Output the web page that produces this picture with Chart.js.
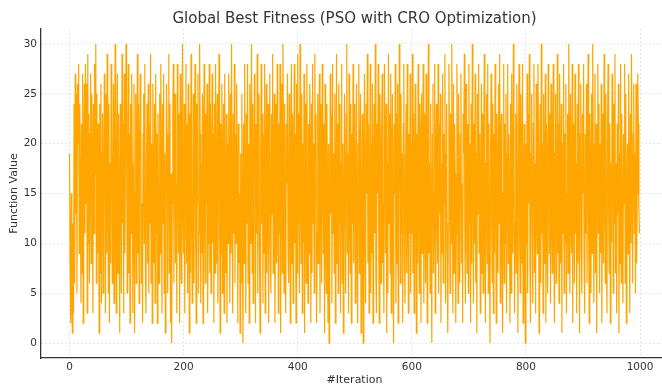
<!DOCTYPE html>
<html>
<head>
<meta charset="utf-8">
<script src="https://cdn.jsdelivr.net/npm/chart.js@4"></script>
<style>
	html, body { margin: 0; padding: 0; background: #fff; overflow: hidden; }
	#wrap { width: 670px; height: 392px; }
</style>
</head>
<body>
<div id="wrap"><canvas id="fitnessChart" width="670" height="392"></canvas></div>
<script>
// global best fitness per iteration (50 per row)
const fitness = [
	19, 8, 2, 15, 4, 1, 12, 3, 24, 6, 27, 13, 25, 5, 26, 20, 28, 9, 24, 16, 4, 22, 7, 27, 2, 18, 26, 11, 28, 14, 26, 3, 29, 10, 23, 6, 21, 27, 8, 25, 19, 3, 24, 11, 28, 17, 30, 6, 25, 9,
	22, 12, 1, 24, 7, 26, 4, 19, 23, 5, 13, 27, 21, 3, 25, 9, 29, 14, 5, 24, 2, 18, 8, 28, 22, 6, 15, 26, 4, 21, 30, 10, 3, 19, 27, 7, 23, 13, 1, 24, 20, 5, 29, 12, 22, 3, 27, 9, 17, 30,
	25, 5, 16, 28, 7, 21, 2, 24, 11, 27, 18, 3, 13, 26, 1, 15, 25, 6, 20, 29, 9, 24, 4, 18, 27, 22, 6, 14, 2, 21, 25, 10, 28, 7, 3, 19, 24, 8, 26, 5, 22, 12, 29, 6, 20, 2, 26, 14, 8, 24,
	4, 27, 11, 21, 2, 23, 14, 6, 25, 9, 28, 16, 3, 24, 12, 27, 5, 19, 1, 13, 26, 21, 5, 18, 29, 7, 24, 2, 17, 0, 14, 23, 28, 6, 20, 25, 8, 16, 3, 28, 19, 9, 23, 2, 27, 12, 6, 22, 30, 13,
	9, 24, 3, 19, 28, 8, 22, 5, 26, 13, 1, 23, 7, 29, 15, 4, 12, 25, 6, 21, 28, 10, 2, 24, 14, 27, 5, 11, 30, 21, 4, 18, 9, 25, 2, 20, 28, 12, 6, 23, 14, 26, 3, 10, 20, 28, 7, 24, 5, 17,
	27, 10, 21, 2, 24, 7, 28, 15, 8, 25, 4, 19, 29, 12, 1, 22, 9, 26, 5, 18, 24, 3, 27, 13, 7, 23, 2, 20, 10, 27, 17, 4, 25, 9, 30, 14, 3, 23, 11, 28, 6, 21, 10, 26, 16, 2, 22, 8, 15, 1,
	19, 6, 25, 11, 0, 22, 8, 28, 14, 3, 23, 12, 28, 6, 20, 2, 26, 10, 18, 30, 7, 24, 4, 16, 27, 20, 2, 22, 11, 29, 5, 17, 25, 9, 1, 19, 28, 12, 23, 4, 21, 9, 28, 3, 18, 26, 7, 14, 24, 2,
	20, 27, 9, 5, 23, 13, 29, 7, 18, 25, 2, 12, 24, 8, 28, 19, 3, 22, 11, 28, 1, 15, 26, 7, 30, 20, 5, 24, 12, 3, 22, 16, 27, 9, 6, 25, 14, 2, 20, 28, 8, 23, 4, 17, 28, 10, 21, 2, 26, 7,
	29, 12, 23, 5, 30, 16, 8, 25, 3, 20, 10, 27, 1, 17, 24, 6, 28, 13, 4, 22, 9, 26, 19, 2, 24, 7, 28, 12, 20, 5, 29, 14, 23, 2, 11, 25, 8, 19, 27, 3, 15, 24, 6, 28, 18, 9, 22, 1, 26, 11,
	5, 24, 16, 2, 20, 0, 10, 27, 13, 23, 4, 28, 11, 19, 7, 25, 2, 15, 29, 8, 22, 5, 26, 12, 24, 3, 18, 28, 6, 20, 1, 11, 25, 14, 5, 23, 30, 9, 19, 3, 27, 13, 7, 24, 2, 21, 12, 28, 8, 18,
	24, 4, 14, 26, 9, 2, 20, 28, 7, 18, 25, 1, 12, 23, 6, 0, 19, 27, 10, 4, 24, 15, 29, 8, 22, 3, 14, 28, 5, 20, 9, 26, 2, 17, 24, 11, 30, 7, 3, 22, 15, 28, 10, 2, 25, 19, 6, 21, 27, 8,
	14, 3, 28, 20, 9, 24, 1, 18, 5, 29, 12, 23, 7, 27, 3, 19, 25, 10, 0, 22, 15, 28, 4, 23, 8, 26, 2, 14, 30, 20, 6, 25, 11, 19, 2, 22, 28, 9, 4, 18, 24, 7, 28, 13, 3, 21, 11, 27, 5, 20,
	11, 29, 7, 23, 3, 18, 26, 12, 1, 21, 8, 28, 15, 5, 24, 20, 2, 25, 9, 19, 28, 4, 14, 23, 6, 27, 12, 2, 20, 30, 9, 18, 5, 24, 11, 0, 21, 26, 7, 15, 28, 3, 19, 24, 12, 8, 28, 5, 22, 13,
	25, 2, 18, 9, 27, 6, 21, 14, 29, 4, 19, 24, 8, 1, 12, 28, 20, 5, 23, 10, 30, 15, 3, 26, 7, 22, 17, 2, 11, 28, 20, 4, 25, 12, 6, 21, 27, 8, 16, 2, 23, 19, 29, 10, 4, 26, 14, 7, 22, 5,
	28, 12, 20, 2, 24, 8, 30, 18, 4, 22, 10, 27, 6, 19, 1, 25, 13, 28, 9, 21, 3, 15, 26, 7, 23, 5, 20, 29, 11, 2, 18, 25, 8, 28, 5, 22, 10, 0, 19, 27, 13, 6, 24, 3, 21, 9, 28, 15, 2, 23,
	16, 7, 26, 12, 29, 4, 20, 23, 9, 1, 15, 28, 6, 22, 10, 25, 3, 19, 28, 8, 21, 13, 2, 24, 5, 27, 16, 9, 30, 20, 3, 12, 23, 7, 26, 14, 1, 21, 28, 10, 5, 25, 19, 8, 28, 2, 14, 22, 6, 0,
	20, 10, 27, 5, 23, 14, 29, 8, 2, 19, 25, 11, 4, 22, 28, 7, 18, 3, 26, 13, 9, 28, 21, 1, 15, 24, 6, 30, 11, 20, 3, 25, 8, 17, 27, 2, 22, 12, 5, 28, 19, 9, 23, 4, 26, 13, 7, 21, 28, 10,
	2, 19, 25, 6, 14, 29, 9, 22, 4, 27, 16, 8, 24, 1, 20, 11, 28, 5, 21, 10, 26, 3, 15, 23, 7, 30, 19, 5, 25, 13, 9, 28, 2, 20, 22, 6, 27, 11, 18, 3, 24, 8, 28, 14, 1, 21, 26, 10, 5, 23,
	15, 28, 8, 3, 21, 11, 26, 6, 19, 29, 10, 2, 23, 16, 5, 25, 9, 30, 20, 4, 13, 27, 7, 22, 1, 17, 28, 11, 24, 5, 20, 9, 26, 2, 14, 23, 8, 29, 19, 6, 25, 10, 3, 21, 28, 13, 7, 22, 2, 18,
	10, 27, 20, 5, 24, 12, 29, 7, 18, 3, 22, 13, 26, 1, 19, 8, 28, 6, 23, 11, 4, 21, 14, 28, 6, 25, 2, 12, 20, 9, 27, 16, 3, 23, 10, 29, 14, 6, 21, 26, 11, 19, 5, 26, 8, 15, 27, 22, 13, 11
];
const iterations = fitness.map((_, i) => i);
const yTicks = [0, 5, 10, 15, 20, 25, 30];
const xTicks = [0, 200, 400, 600, 800, 1000];

const textColor = '#333';
const gridColor = 'rgba(0, 0, 0, 0.13)';

const ctx = document.getElementById('fitnessChart');
new Chart(ctx, {
	type: 'line',
	data: {
		datasets: [{
			label: 'Global Best Fitness',
			data: iterations.map((it, i) => ({ x: it, y: fitness[i] })),
			borderColor: '#ffa500',
			borderWidth: 1.2,
			pointRadius: 0,
			tension: 0,
			fill: false
		}]
	},
	options: {
		responsive: false,
		devicePixelRatio: 1,
		animation: false,
		layout: { padding: { left: 0, right: 2, top: 0, bottom: 0 } },
		plugins: {
			legend: { display: false },
			tooltip: { enabled: false },
			title: {
				display: true,
				fullSize: false,
				text: 'Global Best Fitness (PSO with CRO Optimization)',
				color: textColor,
				font: { family: 'DejaVu Sans', size: 15, weight: 'normal' },
				padding: { top: 10, bottom: 1 }
			}
		},
		scales: {
			x: {
				type: 'linear',
				min: -50,
				max: 1049,
				afterFit: (scale) => { scale.height = 34; },
				afterBuildTicks: (scale) => { scale.ticks = xTicks.map(v => ({ value: v })); },
				ticks: {
					color: textColor,
					font: { family: 'DejaVu Sans', size: 10.5 },
					padding: 3,
					maxRotation: 0,
					callback: (value) => String(value)
				},
				grid: { color: gridColor, lineWidth: 0.8, drawTicks: false },
				border: { display: true, color: '#333', width: 1.3, dash: [2, 2] },
				title: {
					display: true,
					text: '#Iteration',
					color: textColor,
					font: { family: 'DejaVu Sans', size: 11 },
					padding: { top: 0, bottom: 5 }
				}
			},
			y: {
				type: 'linear',
				min: -1.5,
				max: 31.5,
				afterFit: (scale) => { scale.width = 41; },
				afterBuildTicks: (scale) => { scale.ticks = yTicks.map(v => ({ value: v })); },
				ticks: {
					color: textColor,
					font: { family: 'DejaVu Sans', size: 10.5 },
					padding: 4,
					callback: (value) => String(value)
				},
				grid: { color: gridColor, lineWidth: 0.8, drawTicks: false },
				border: { display: true, color: '#333', width: 1.3, dash: [2, 2] },
				title: {
					display: true,
					text: 'Function Value',
					color: textColor,
					font: { family: 'DejaVu Sans', size: 11 },
					padding: { top: 8, bottom: 0 }
				}
			}
		}
	}
});
</script>
</body>
</html>
